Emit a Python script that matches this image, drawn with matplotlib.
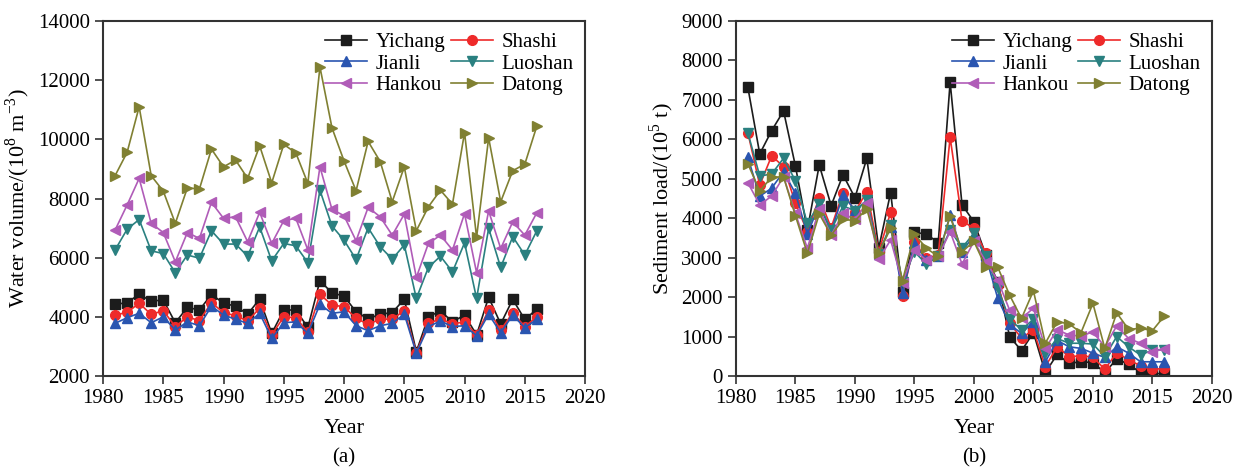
import matplotlib
matplotlib.use("Agg")
import matplotlib.pyplot as plt

plt.rcParams['font.family'] = ['Liberation Serif', 'DejaVu Serif']
plt.rcParams['mathtext.fontset'] = 'custom'
plt.rcParams['mathtext.rm'] = 'Liberation Serif'

years = list(range(1981, 2017))
stations = ['Yichang', 'Shashi', 'Jianli', 'Luoshan', 'Hankou', 'Datong']

# Water volume (10^8 m^3)
water_yichang = [4420, 4480, 4760, 4530, 4570, 3800, 4320, 4230, 4760, 4460,
                 4360, 4090, 4600, 3440, 4230, 4230, 3640, 5220, 4810, 4700,
                 4170, 3930, 4090, 4140, 4600, 2820, 4000, 4200, 3830, 4060,
                 3390, 4660, 3760, 4590, 3910, 4260]
water_shashi = [4060, 4150, 4460, 4080, 4210, 3670, 4000, 3870, 4480, 4140,
                4040, 3860, 4290, 3390, 4000, 3970, 3480, 4760, 4400, 4340,
                3950, 3750, 3920, 3920, 4210, 2790, 3780, 3930, 3760, 3830,
                3390, 4230, 3550, 4140, 3670, 4000]
water_jianli = [3780, 3970, 4120, 3800, 4000, 3550, 3830, 3700, 4360, 4060,
                3920, 3780, 4120, 3270, 3800, 3830, 3440, 4420, 4120, 4170,
                3700, 3530, 3700, 3780, 4090, 2770, 3670, 3860, 3670, 3700,
                3360, 4090, 3460, 4060, 3630, 3920]
water_luoshan = [6260, 6960, 7290, 6230, 6140, 5490, 6090, 5980, 6910, 6460,
                 6460, 6050, 7040, 5890, 6480, 6400, 5830, 8280, 7070, 6590,
                 5940, 7010, 6370, 5950, 6430, 4620, 5670, 6050, 5520, 6500,
                 4620, 6990, 5670, 6710, 6090, 6910]
water_hankou = [6930, 7780, 8680, 7160, 6850, 5860, 6850, 6650, 7870, 7330,
                7380, 6540, 7530, 6480, 7250, 7330, 6260, 9070, 7630, 7420,
                6570, 7700, 7380, 6760, 7470, 5330, 6480, 6760, 6260, 7490,
                5490, 7580, 6310, 7210, 6760, 7520]
water_datong = [8770, 9560, 11100, 8770, 8250, 7160, 8360, 8320, 9670, 9070,
                9300, 8680, 9780, 8530, 9830, 9540, 8510, 12450, 10390, 9270,
                8260, 9930, 9250, 7890, 9070, 6910, 7720, 8280, 7810, 10230,
                6690, 10050, 7890, 8940, 9160, 10450]

# Sediment load (10^5 t)
sed_yichang = [7320, 5630, 6220, 6720, 5320, 3700, 5350, 4320, 5100, 4520,
               5520, 3240, 4650, 2120, 3640, 3600, 3380, 7450, 4340, 3910,
               3070, 2390, 1000, 640, 1100, 85, 550, 320, 360, 340,
               85, 430, 300, 85, 50, 70]
sed_shashi = [6170, 4840, 5580, 5310, 4380, 3660, 4520, 3760, 4650, 4170,
              4670, 3150, 4150, 2030, 3390, 2980, 3070, 6050, 3940, 3740,
              3110, 2300, 1340, 960, 1170, 240, 740, 490, 510, 480,
              170, 590, 410, 260, 170, 190]
sed_jianli = [5540, 4560, 4760, 5180, 4630, 3600, 4340, 3660, 4590, 4210,
              4420, 3100, 3790, 2100, 3360, 2940, 3030, 4080, 3150, 3570,
              3030, 1970, 1310, 1080, 1380, 360, 900, 740, 700, 580,
              470, 740, 580, 360, 360, 360]
sed_luoshan = [6170, 5070, 5120, 5520, 4950, 3870, 4360, 3700, 4310, 4190,
               4460, 3100, 3830, 2390, 3150, 2840, 3030, 3700, 3250, 3620,
               3040, 2220, 1440, 1170, 1440, 580, 950, 830, 830, 810,
               490, 1000, 740, 530, 660, 660]
sed_hankou = [4900, 4340, 4560, 5050, 4120, 3240, 4230, 3570, 4120, 3970,
              4380, 2960, 3450, 2370, 3190, 2940, 3030, 3660, 2840, 3410,
              2900, 2430, 1670, 1460, 1720, 700, 1170, 1040, 1010, 1120,
              740, 1270, 950, 830, 620, 680]
sed_datong = [5380, 4690, 5040, 5050, 4060, 3110, 4110, 3570, 3970, 3940,
              4230, 3130, 3740, 2420, 3600, 3240, 3030, 4050, 3150, 3410,
              2760, 2760, 2050, 1460, 2160, 830, 1380, 1320, 1100, 1840,
              700, 1600, 1180, 1210, 1150, 1520]

water = [water_yichang, water_shashi, water_jianli, water_luoshan, water_hankou, water_datong]
sediment = [sed_yichang, sed_shashi, sed_jianli, sed_luoshan, sed_hankou, sed_datong]

colors = ['#1c1c1c', '#ee2a2a', '#2a55b0', '#2a8080', '#b05cb8', '#808032']
markers = ['s', 'o', '^', 'v', '<', '>']

fig = plt.figure(figsize=(12.44, 4.68), dpi=100)
ax1 = fig.add_axes([0.0828, 0.1966, 0.3875, 0.7585])
ax2 = fig.add_axes([0.5916, 0.1966, 0.3826, 0.7585])


def draw(ax, series, ylim, yticks, ylabel, tag):
    for s, name, c, m in zip(series, stations, colors, markers):
        ax.plot(years, s, color=c, marker=m, markersize=7, linewidth=1.2,
                label=name, markeredgecolor=c)
    ax.set_xlim(1980, 2020)
    ax.set_xticks(range(1980, 2021, 5))
    ax.set_ylim(*ylim)
    ax.set_yticks(yticks)
    ax.tick_params(direction='out', labelsize=15, length=6, width=1.2, colors='#333333')
    ax.tick_params(labelcolor='black')
    for sp in ax.spines.values():
        sp.set_linewidth(1.5)
        sp.set_color('#333333')
    ax.set_ylabel(ylabel, fontsize=16)
    ax.set_xlabel('Year', fontsize=16, labelpad=8)
    pos = ax.get_position()
    fig.text(pos.x0 + pos.width / 2, 0.022, '(' + tag + ')', fontsize=15,
             ha='center', va='center')
    h, l = ax.get_legend_handles_labels()
    order = [0, 2, 4, 1, 3, 5]
    ax.legend([h[i] for i in order], [l[i] for i in order], ncol=2, frameon=False,
              fontsize=15, loc='upper right', handlelength=2.0, handletextpad=0.4,
              columnspacing=0.3, labelspacing=0.1, borderaxespad=0.15)


draw(ax1, water, (2000, 14000), range(2000, 14001, 2000),
     'Water volume/(10$^8$ m$^{-3}$)', 'a')
draw(ax2, sediment, (0, 9000), range(0, 9001, 1000),
     'Sediment load/(10$^5$ t)', 'b')

fig.savefig('out.png', dpi=100)
